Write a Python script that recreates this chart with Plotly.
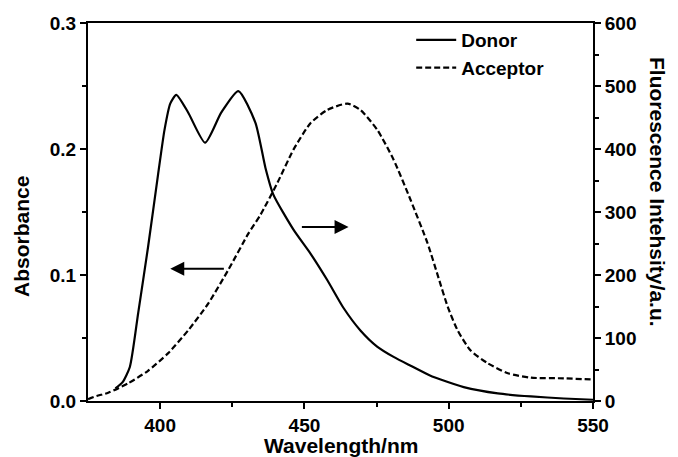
import plotly.graph_objects as go

# Donor absorbance (left axis)
donor_wl = [384.5, 387.0, 389.5, 392.4, 395.8, 399.3, 401.5, 403.5, 405.6, 409.7, 415.6,
            421.2, 427.1, 433.0, 436.5, 439.2, 446.2, 452.1, 457.9, 463.5, 469.4,
            475.3, 480.9, 486.8, 493.7, 497.2, 505.2, 517.0, 528.5, 539.9, 550.0]
donor_abs = [0.010, 0.015, 0.027, 0.070, 0.122, 0.180, 0.215, 0.236, 0.243, 0.229, 0.205,
             0.229, 0.246, 0.221, 0.185, 0.164, 0.136, 0.117, 0.096, 0.074, 0.056,
             0.043, 0.035, 0.028, 0.020, 0.017, 0.011, 0.006, 0.0036, 0.002, 0.001]

# Acceptor fluorescence (right axis)
acc_wl = [375.0, 378.0, 382.0, 388.9, 395.8, 402.8, 409.7, 416.7, 423.6, 430.6, 434.7,
          440.6, 446.2, 452.1, 457.9, 464.9, 469.4, 475.3, 480.9, 486.8, 492.7,
          496.5, 499.7, 503.1, 507.6, 513.5, 520.5, 528.5, 539.9, 550.0]
acc_fl = [3, 8, 13, 28, 48, 76, 112, 155, 208, 266, 295,
          346, 399, 441, 462, 472, 462, 430, 383, 319, 250,
          195, 149, 112, 80, 60, 44, 37, 36, 34]

x_ticks = [400, 450, 500, 550]
left_ticks = [0.0, 0.1, 0.2, 0.3]
left_labels = ["0.0", "0.1", "0.2", "0.3"]
right_ticks = [0, 100, 200, 300, 400, 500, 600]

FONT = "Liberation Sans, Arial, sans-serif"
TICK = dict(family=FONT, size=19, color="black", weight="bold")
TITLE = dict(family=FONT, size=21, color="black", weight="bold")

fig = go.Figure()
fig.add_trace(go.Scatter(x=donor_wl, y=donor_abs, mode="lines", name="Donor",
                         line=dict(color="black", width=2.2, shape="spline", smoothing=0.6),
                         yaxis="y"))
fig.add_trace(go.Scatter(x=acc_wl, y=acc_fl, mode="lines", name="Acceptor",
                         line=dict(color="black", width=2.2, dash="6px,3px", shape="spline", smoothing=0.6),
                         yaxis="y2"))

axis_common = dict(showgrid=False, zeroline=False, showline=True, linecolor="black",
                   linewidth=2, ticks="outside", tickwidth=2, ticklen=6, tickcolor="black",
                   tickfont=TICK, automargin=False)

fig.update_layout(
    width=678, height=457,
    margin=dict(l=88, r=85, t=23, b=56),
    plot_bgcolor="white", paper_bgcolor="white",
    showlegend=True,
    legend=dict(x=0.64, y=1.005, xanchor="left", yanchor="top",
                font=dict(family=FONT, size=19, color="black", weight="bold"),
                bgcolor="rgba(0,0,0,0)", tracegroupgap=0, itemwidth=40),
    xaxis=dict(range=[375, 550], tickvals=x_ticks, mirror=True,
               minor=dict(tickvals=[425, 475, 525], ticks="outside", ticklen=4, tickwidth=2, tickcolor="black"),
               **axis_common),
    yaxis=dict(range=[0, 0.3], tickvals=left_ticks, ticktext=left_labels,
               minor=dict(tickvals=[0.05, 0.15, 0.25], ticks="outside", ticklen=4, tickwidth=2, tickcolor="black"),
               **axis_common),
    yaxis2=dict(range=[0, 600], tickvals=right_ticks, overlaying="y", side="right",
                minor=dict(tickvals=[50, 150, 250, 350, 450, 550], ticks="outside", ticklen=4, tickwidth=2, tickcolor="black"),
                **axis_common),
)

# Axis titles
fig.add_annotation(text="Wavelength/nm", xref="paper", yref="paper", x=0.5, y=0.0, yshift=-44,
                   xanchor="center", yanchor="middle", showarrow=False, font=TITLE)
fig.add_annotation(text="Absorbance", xref="paper", yref="paper", x=0.0, y=0.434, xshift=-66,
                   xanchor="center", yanchor="middle", textangle=-90, showarrow=False, font=TITLE)
fig.add_annotation(text="Fluorescence Intehsity/a.u.", xref="paper", yref="paper",
                   x=1.0, y=0.553, xshift=64, xanchor="center", yanchor="middle",
                   textangle=90, showarrow=False, font=TITLE)

# Arrows indicating axes
fig.add_annotation(x=403.5, y=0.105, ax=422.6, ay=0.105, xref="x", yref="y", axref="x", ayref="y",
                   showarrow=True, arrowhead=2, arrowsize=1.4, arrowwidth=2, arrowcolor="black", text="")
fig.add_annotation(x=465.3, y=0.138, ax=448.6, ay=0.138, xref="x", yref="y", axref="x", ayref="y",
                   showarrow=True, arrowhead=2, arrowsize=1.4, arrowwidth=2, arrowcolor="black", text="")

fig.write_html("out.html", config={"displayModeBar": False},
               post_script="document.body.style.margin='0px';document.body.style.overflow='hidden';")
